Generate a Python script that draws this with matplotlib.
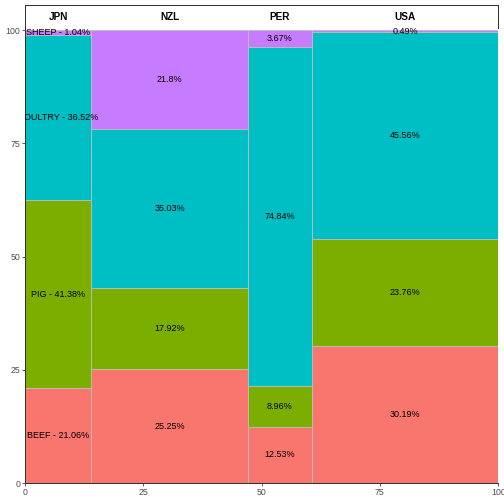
import matplotlib
matplotlib.use("Agg")
import matplotlib.pyplot as plt
import numpy as np

plt.rcParams['font.family'] = ['Liberation Sans', 'DejaVu Sans']

countries = ["JPN", "NZL", "PER", "USA"]
col_widths = [13.94, 33.24, 13.39, 39.43]
categories = ["BEEF", "PIG", "POULTRY", "SHEEP"]
beef = [21.06, 25.25, 12.53, 30.19]
pig = [41.38, 17.92, 8.96, 23.76]
poultry = [36.52, 35.03, 74.84, 45.56]
sheep = [1.04, 21.8, 3.67, 0.49]
colors = ["#F8766D", "#7CAE00", "#00BFC4", "#C77CFF"]
xticks = [0, 25, 50, 75, 100]
yticks = [0, 25, 50, 75, 100]

series = [beef, pig, poultry, sheep]

fig = plt.figure(figsize=(7, 7), dpi=72)
W = H = 504.0
ax = fig.add_axes([25 / W, (H - 483.3) / H, (498.3 - 25) / W, (483.3 - 28) / H])
hx = fig.add_axes([25 / W, (H - 28) / H, (498.3 - 25) / W, 23 / H])

lefts = np.concatenate([[0], np.cumsum(col_widths)[:-1]])
centers = lefts + np.array(col_widths) / 2
bottoms = np.zeros(len(countries))
for ci, (cat, vals, col) in enumerate(zip(categories, series, colors)):
    vals = np.array(vals)
    ax.bar(lefts, vals, width=col_widths, bottom=bottoms, align='edge',
           color=col, edgecolor='#BEBEBE', linewidth=0.8)
    for j in range(len(countries)):
        yc = bottoms[j] + vals[j] / 2
        lab = f"{vals[j]:g}%"
        if j == 0:
            lab = f"{cat} - {lab}"
        ax.text(centers[j], yc, lab, ha='center', va='center', fontsize=9,
                color='black', clip_on=True)
    bottoms = bottoms + vals

ax.set_xlim(0, 100)
ax.set_ylim(0, (483.3 - 28) / 4.533)
ax.set_xticks(xticks)
ax.set_yticks(yticks)
ax.tick_params(axis='both', labelsize=8.8, labelcolor='#4D4D4D', color='#333333',
               length=3, width=0.8, pad=2)
for s in ['top', 'right']:
    ax.spines[s].set_visible(False)
for s in ['left', 'bottom']:
    ax.spines[s].set_color('#333333')
    ax.spines[s].set_linewidth(1.0)

hx.set_xlim(0, 100)
hx.set_ylim(0, 1)
hx.set_xticks([])
hx.set_yticks([])
for s in ['top', 'right', 'left']:
    hx.spines[s].set_color('#333333')
    hx.spines[s].set_linewidth(1.0)
hx.spines['bottom'].set_visible(False)
for c, name in zip(centers, countries):
    hx.text(c, 0.5, name, ha='center', va='center', fontsize=10,
            fontweight='bold', color='black')

fig.savefig("out.png", dpi=72)
